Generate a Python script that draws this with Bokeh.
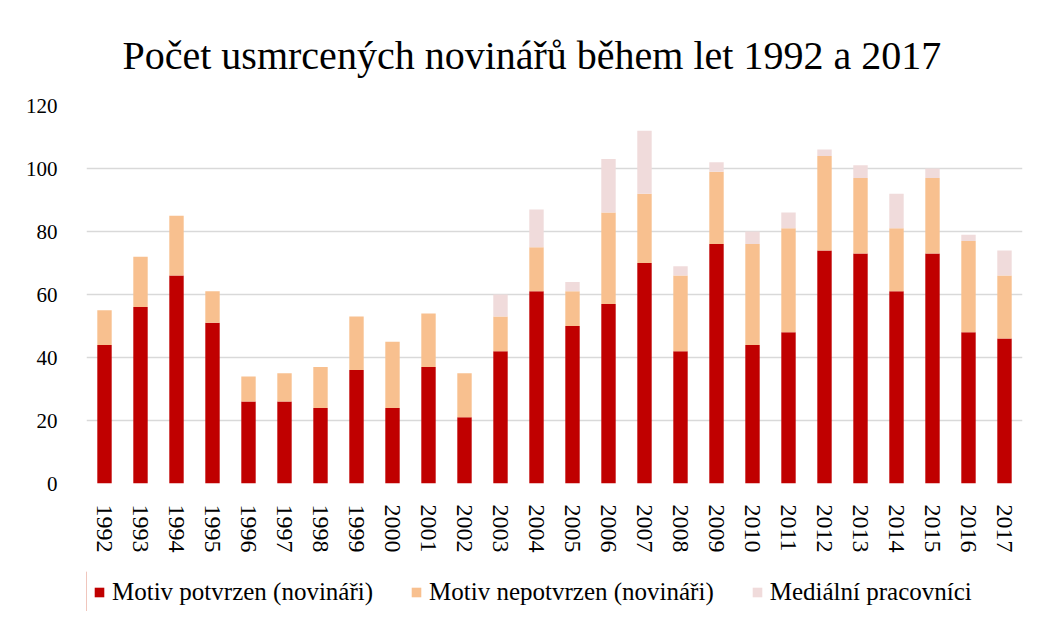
from bokeh.plotting import figure
from bokeh.models import FactorRange, Legend, Title, ColumnDataSource, Range1d
from bokeh.layouts import column
from bokeh.embed import file_html
from bokeh.resources import INLINE

years = [str(y) for y in range(1992, 2018)]
potvrzen = [44, 56, 66, 51, 26, 26, 24, 36, 24, 37, 21, 42, 61, 50, 57, 70, 42, 76, 44, 48, 74, 73, 61, 73, 48, 46]
nepotvrzen = [11, 16, 19, 10, 8, 9, 13, 17, 21, 17, 14, 11, 14, 11, 29, 22, 24, 23, 32, 33, 30, 24, 20, 24, 29, 20]
medialni = [0, 0, 0, 0, 0, 0, 0, 0, 0, 0, 0, 7, 12, 3, 17, 20, 3, 3, 4, 5, 2, 4, 11, 3, 2, 8]
series = ["potvrzen", "nepotvrzen", "medialni"]
labels = ["Motiv potvrzen (novináři)", "Motiv nepotvrzen (novináři)", "Mediální pracovníci"]
colors = ["#C00000", "#F8C08F", "#F0DBDB"]
title_text = "Počet usmrcených novinářů během let 1992 a 2017"
FONT = "Liberation Serif"

source = ColumnDataSource(dict(years=years, potvrzen=potvrzen, nepotvrzen=nepotvrzen, medialni=medialni))

p = figure(x_range=FactorRange(*years), y_range=(0, 120), frame_width=936, frame_height=378,
           output_backend="svg", toolbar_location=None,
           min_border_left=86, min_border_right=5, min_border_top=105, min_border_bottom=88)
p.title.visible = False
t = Title(text=title_text, align="left", offset=36, text_font=FONT, text_font_size="40px",
          text_font_style="normal", text_color="#000000", standoff=56)
p.add_layout(t, "above")

r = p.vbar_stack(series, x="years", width=0.4, source=source, color=colors, line_width=0)

p.outline_line_color = None
p.xgrid.grid_line_color = None
p.ygrid.grid_line_color = "#D9D9D9"
p.ygrid.grid_line_width = 1.5
p.yaxis.ticker = [0, 20, 40, 60, 80, 100, 120]
p.yaxis.axis_line_color = None
p.yaxis.major_tick_line_color = None
p.yaxis.minor_tick_line_color = None
p.yaxis.major_label_text_font = FONT
p.yaxis.major_label_text_font_size = "21px"
p.yaxis.major_label_text_color = "#000000"
p.yaxis.major_label_standoff = 23
p.xaxis.axis_line_color = None
p.xaxis.major_tick_line_color = None
p.xaxis.minor_tick_line_color = None
p.xaxis.major_label_orientation = "vertical"
p.xaxis.major_label_text_font = FONT
p.xaxis.major_label_text_font_size = "24px"
p.xaxis.major_label_text_color = "#000000"
p.xaxis.major_label_standoff = 15
p.x_range.range_padding = 0

# legend strip below the chart (legend keys are off-screen placeholders)
p2 = figure(width=1027, height=40, x_range=Range1d(0, 1), y_range=Range1d(0, 1),
            x_axis_type=None, y_axis_type=None, title=None, min_border=0,
            output_backend="svg", toolbar_location=None)
p2.outline_line_color = None
p2.xgrid.visible = False
p2.ygrid.visible = False
keys = []
for lab, c in zip(labels, colors):
    keys.append(p2.vbar(x=[-10], top=[1], width=0.4, color=c, line_width=0))
legend = Legend(items=[(lab, [k]) for lab, k in zip(labels, keys)], orientation="horizontal",
                location=(7, 5), border_line_alpha=0, background_fill_alpha=0,
                label_text_font=FONT, label_text_font_size="25px", label_text_color="#000000",
                glyph_width=12, glyph_height=12, spacing=37, padding=0, margin=0,
                label_standoff=7)
p2.add_layout(legend, "center")

layout = column(p, p2, spacing=0)
open("out.html", "w").write(file_html(layout, INLINE))
